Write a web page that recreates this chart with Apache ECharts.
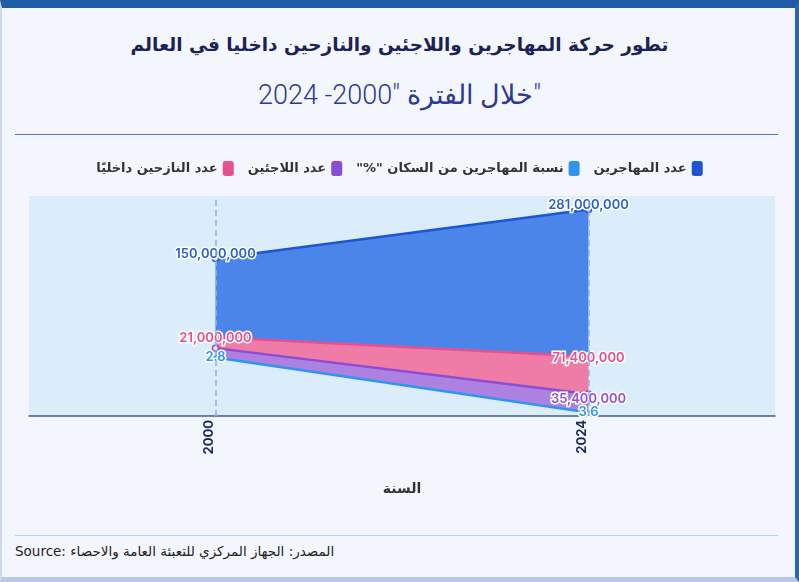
<!DOCTYPE html>
<html>
<head>
<meta charset="utf-8">
<script src="https://cdn.jsdelivr.net/npm/echarts@6/dist/echarts.min.js"></script>
<style>
  html, body { margin: 0; padding: 0; width: 799px; height: 582px; overflow: hidden; background: #f4f6fd; }
  #card { position: absolute; left: 0; top: 0; width: 799px; height: 582px; box-sizing: border-box;
    background: #f4f6fd; border-top: 8px solid #1e5ca8; border-right: 4px solid #2a66b3;
    border-bottom: 5px solid #b7c7ec; border-left: 2px solid #cdd8f0; }
  .title { position: absolute; left: 0; width: 799px; text-align: center; top: 34px;
    font: bold 18.5px 'DejaVu Sans'; color: #1b2352; direction: rtl; }
  .sub { top: 79px; font: 300 27px 'Roboto', 'DejaVu Sans'; color: #2c3a92; }
  .rule { position: absolute; left: 15px; width: 763px; top: 134px; height: 0; border-top: 1.5px solid #4f76cc; }
  .foot { top: 535px; border-top: 1px solid #a7d9ea; }
  .source { position: absolute; left: 15px; top: 543px; font: 13.5px 'DejaVu Sans'; color: #222; }
  #chart { position: absolute; left: 0; top: 0; width: 799px; height: 582px; }
</style>
</head>
<body>
<div id="card"></div>
<div class="title">تطور حركة المهاجرين واللاجئين والنازحين داخليا في العالم</div>
<div class="title sub">"خلال الفترة "2000- 2024</div>
<div class="rule"></div>
<div class="rule foot"></div>
<div class="source">Source: <span dir="rtl">المصدر: الجهاز المركزي للتعبئة العامة والاحصاء</span></div>
<div id="chart"></div>
<script>
var years = ['2000', '2024'];
var migrants = [150000000, 281000000];
var displaced = [21000000, 71400000];
var refugees = [18000000, 35400000];
var migrantShare = [2.8, 3.6];

var migrantsName = 'عدد المهاجرين';
var shareName = '\u200E"%" نسبة المهاجرين من السكان';
var refugeesName = 'عدد اللاجئين';
var displacedName = 'عدد النازحين داخليًا';

var chart = echarts.init(document.getElementById('chart'));

// bands are piled from the share line upward: refugees, displaced, migrants
var stackOrder = [refugees, displaced, migrants];

function edgesAt(api, i) {
    var x = api.coord([i, 0])[0];
    var y = chart.convertToPixel({ yAxisIndex: 1 }, migrantShare[i]);
    var out = [];
    stackOrder.forEach(function (vals) {
        var h = api.size([0, vals[i]])[1];
        out.push({ x: x, lo: y, hi: y - h });
        y -= h;
    });
    return out;
}

function bandSeries(name, level, lineColor, fillColor, labelColor, labelDy) {
    var vals = stackOrder[level];
    return {
        name: name,
        type: 'custom',
        itemStyle: { color: lineColor },
        data: [[0, 0]],
        renderItem: function (params, api) {
            var all = years.map(function (y, i) { return edgesAt(api, i); });
            var e = all.map(function (a) { return a[level]; });
            var top = e.map(function (p) { return [p.x, p.hi]; });
            var bottom = e.map(function (p) { return [p.x, p.lo]; }).reverse();
            var kids = [
                { type: 'polygon', shape: { points: top.concat(bottom) }, style: { fill: fillColor } },
                { type: 'polyline', shape: { points: top }, style: { stroke: lineColor, lineWidth: 2.5, fill: null } }
            ];
            e.forEach(function (p, i) {
                kids.push({ type: 'circle', shape: { cx: p.x, cy: p.hi, r: 3 },
                    style: { fill: '#dbedfb', stroke: lineColor, lineWidth: 1.5 } });
                // hide a label that would sit on the one of the band above
                var above = all[i][level + 1];
                if (above && Math.abs(above.hi - p.hi) < 14) return;
                kids.push({ type: 'text', z2: 100, x: p.x, y: p.hi + labelDy,
                    style: { text: echarts.format.addCommas(vals[i]), fill: labelColor,
                        stroke: '#fff', lineWidth: 3, font: '600 13px Inter',
                        align: 'center', verticalAlign: 'middle' } });
            });
            return { type: 'group', children: kids };
        }
    };
}

var option = {
    animation: false,
    legend: {
        data: [displacedName, refugeesName, shareName, migrantsName],
        top: 156, left: 'center', align: 'right', icon: 'roundRect',
        itemWidth: 11, itemHeight: 15, itemGap: 14, selectedMode: false,
        textStyle: { fontFamily: 'DejaVu Sans', fontWeight: 'bold', fontSize: 13, color: '#333' }
    },
    grid: {
        left: 29, right: 24, top: 196, bottom: 166,
        show: true, backgroundColor: '#dbedfb', borderWidth: 0
    },
    xAxis: {
        type: 'category', data: years, boundaryGap: true,
        name: 'السنة', nameLocation: 'middle', nameGap: 66,
        nameTextStyle: { fontFamily: 'DejaVu Sans', fontWeight: 'bold', fontSize: 14, color: '#333' },
        axisLine: { onZero: false, lineStyle: { color: '#3f5d92', width: 1.5 } },
        axisTick: { alignWithLabel: true, length: 46, lineStyle: { color: '#7f9dd8', width: 1.5 } },
        axisLabel: { rotate: 90, margin: 4, verticalAlign: 'bottom', fontFamily: 'Inter',
            fontWeight: 'bold', fontSize: 13, color: '#1b2a55' },
        splitLine: { show: false }
    },
    yAxis: [
        { type: 'value', min: 0, max: 420000000, show: false },
        { type: 'value', min: 0.45, max: 3.65, inverse: true, show: false }
    ],
    series: [
        {
            type: 'line', data: [], z: 1,
            markLine: {
                silent: true, symbol: ['none', 'none'], label: { show: false },
                lineStyle: { type: [6, 4], color: '#8fb0e6', width: 1.5 },
                data: years.map(function (y) { return { xAxis: y }; })
            }
        },
        bandSeries(migrantsName, 2, '#1e55d3', '#4c85e9', '#2a5fd0', -4),
        bandSeries(displacedName, 1, '#e9508b', '#ef7ba7', '#e4508c', 1),
        bandSeries(refugeesName, 0, '#8c4dd5', '#ad81e2', '#9052d6', 5),
        {
            name: shareName, type: 'line', yAxisIndex: 1, data: migrantShare,
            color: '#2f95ef', lineStyle: { width: 2.5 }, symbol: 'circle', symbolSize: 4,
            label: { show: true, position: 'inside', color: '#2f95ef', textBorderColor: '#fff',
                textBorderWidth: 3, fontFamily: 'Inter', fontWeight: 600, fontSize: 13 }
        }
    ]
};

chart.setOption(option);
</script>
</body>
</html>
